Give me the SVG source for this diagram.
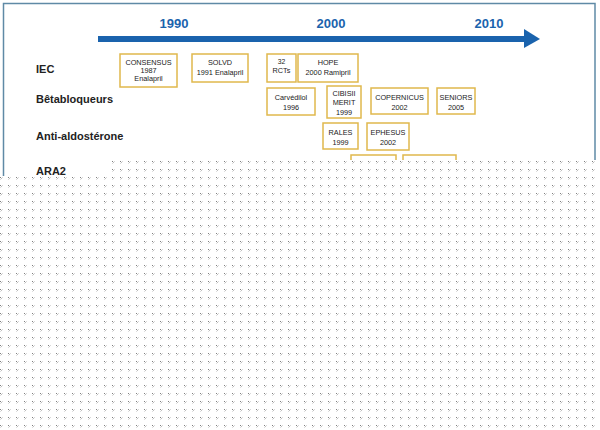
<svg xmlns="http://www.w3.org/2000/svg" width="600" height="430" viewBox="0 0 600 430">
<defs>
<style>
.year{font-family:"Liberation Sans",Arial,sans-serif;font-weight:bold;font-size:13px;fill:#1a63ad;text-anchor:middle}
.row{font-family:"Liberation Sans",Arial,sans-serif;font-weight:bold;font-size:11px;fill:#222}
.box rect{fill:#fff;stroke:#e0b84c;stroke-width:1.5}
.box text{font-family:"Liberation Sans",Arial,sans-serif;font-size:7.3px;fill:#222;text-anchor:middle}
</style>
<pattern id="dots" x="0" y="1" width="8" height="8" patternUnits="userSpaceOnUse">
<rect width="8" height="8" fill="#fff"/>
<rect x="0" y="0" width="1" height="1" fill="#7f7f7f"/>
<rect x="1" y="1" width="1" height="1" fill="#bdbdbd"/>
<rect x="2" y="0" width="1" height="1" fill="#d8d8d8"/>
<rect x="0" y="2" width="1" height="1" fill="#dedede"/>
</pattern>
</defs>
<rect width="600" height="430" fill="#fff"/>
<rect x="3.5" y="3.5" width="591.5" height="400" fill="none" stroke="#5f8aa6" stroke-width="1.5"/>
<g id="timeline">
<line x1="98" y1="39" x2="527" y2="39" stroke="#1a63ad" stroke-width="6"/>
<polygon points="524,29 540,39 524,48" fill="#1a63ad"/>
<text class="year" x="174" y="28">1990</text>
<text class="year" x="331" y="28">2000</text>
<text class="year" x="489" y="28">2010</text>
</g>
<g id="rows">
<text class="row" x="36" y="73">IEC</text>
<text class="row" x="36" y="103">Bêtabloqueurs</text>
<text class="row" x="36" y="140">Anti-aldostérone</text>
<text class="row" x="36" y="175">ARA2</text>
</g>
<g id="consensus" class="box"><rect x="120" y="54" width="57" height="33"/><text x="148.5" y="64.5">CONSENSUS</text><text x="148.5" y="72.5">1987</text><text x="148.5" y="81">Enalapril</text></g>
<g id="solvd" class="box"><rect x="192" y="54" width="56" height="28"/><text x="220" y="64.5">SOLVD</text><text x="220" y="74.5">1991 Enalapril</text></g>
<g id="rcts" class="box"><rect x="267" y="54" width="29" height="28"/><text x="281.5" y="63.5" style="font-size:6.8px">32</text><text x="281.5" y="72.5">RCTs</text></g>
<g id="hope" class="box"><rect x="298" y="54" width="60" height="28"/><text x="328" y="64.5">HOPE</text><text x="328" y="75">2000 Ramipril</text></g>
<g id="carvedilol" class="box"><rect x="267" y="88" width="48" height="27"/><text x="291" y="99.5">Carvédilol</text><text x="291" y="109.5">1996</text></g>
<g id="cibis" class="box"><rect x="327" y="86" width="34" height="32"/><text x="344" y="95.5">CIBISII</text><text x="344" y="105">MERIT</text><text x="344" y="114.5">1999</text></g>
<g id="copernicus" class="box"><rect x="371" y="88" width="57" height="26"/><text x="399.5" y="99.5">COPERNICUS</text><text x="399.5" y="109.5">2002</text></g>
<g id="seniors" class="box"><rect x="437" y="88" width="38" height="26"/><text x="456" y="99.5">SENIORS</text><text x="456" y="109.5">2005</text></g>
<g id="rales" class="box"><rect x="323" y="123" width="35" height="26"/><text x="340.5" y="134.5">RALES</text><text x="340.5" y="144.5">1999</text></g>
<g id="ephesus" class="box"><rect x="367" y="123" width="42" height="27"/><text x="388" y="135">EPHESUS</text><text x="388" y="145">2002</text></g>
<g id="ara2a" class="box"><rect x="351" y="155" width="45" height="30"/></g>
<g id="ara2b" class="box"><rect x="403" y="155" width="53" height="30"/></g>
<g id="connectors"></g>
<polygon points="0,176 112,176 112,160 600,160 600,430 0,430" fill="url(#dots)"/>
</svg>
